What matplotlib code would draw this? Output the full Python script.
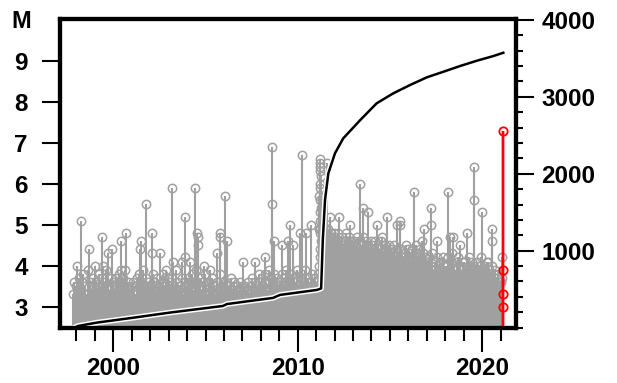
import matplotlib.pyplot as plt
import matplotlib.patheffects as pe
from matplotlib.ticker import MultipleLocator
import numpy as np

# Largest magnitude per month, Oct 1997 .. Jan 2021
first_month = 1997 + 9 / 12
monthly_max = [
    3.3, 3.6, 3.5,                                                  # 1997
    3.5, 3.7, 3.4, 3.6, 3.8, 3.5, 3.3, 3.9, 3.6, 3.4, 3.7, 3.5,     # 1998
    3.6, 3.4, 3.8, 3.5, 3.7, 3.3, 3.6, 3.9, 3.5, 3.4, 3.7, 3.6,     # 1999
    3.4, 3.7, 3.5, 3.8, 3.6, 3.3, 3.7, 3.9, 3.5, 3.6, 3.4, 3.5,     # 2000
    3.6, 3.5, 3.3, 3.7, 3.8, 3.4, 3.6, 3.9, 3.5, 3.7, 3.6, 3.4,     # 2001
    3.5, 3.8, 3.6, 3.4, 3.7, 3.5, 3.3, 3.6, 3.8, 3.5, 3.4, 3.7,     # 2002
    3.6, 3.4, 3.7, 3.5, 3.9, 3.6, 3.4, 3.5, 3.7, 3.3, 3.6, 3.5,     # 2003
    3.7, 3.5, 3.6, 3.8, 3.4, 3.9, 3.6, 3.5, 3.7, 3.4, 3.6, 3.8,     # 2004
    3.5, 3.3, 3.6, 3.4, 3.7, 3.5, 3.3, 3.6, 3.4, 3.8, 3.5, 3.6,     # 2005
    3.4, 3.6, 3.3, 3.5, 3.7, 3.4, 3.6, 3.3, 3.5, 3.4, 3.6, 3.5,     # 2006
    3.3, 3.5, 3.4, 3.6, 3.3, 3.5, 3.7, 3.4, 3.6, 3.5, 3.8, 3.6,     # 2007
    3.7, 3.5, 3.8, 3.6, 3.4, 3.9, 3.7, 3.5, 3.8, 3.6, 3.7, 3.5,     # 2008
    3.6, 3.8, 3.5, 3.7, 3.9, 3.6, 3.4, 3.8, 3.5, 3.7, 3.6, 3.9,     # 2009
    3.5, 3.7, 3.8, 3.6, 3.9, 3.5, 3.7, 3.4, 3.6, 3.8, 3.5, 3.7,     # 2010
    3.6, 3.8, 4.9, 5.1, 5.0, 4.9, 4.8, 4.9, 4.7, 4.8, 4.7, 4.8,     # 2011
    4.7, 4.6, 4.8, 4.6, 4.7, 4.5, 4.6, 4.8, 4.5, 4.7, 4.6, 4.5,     # 2012
    4.6, 4.5, 4.7, 4.4, 4.6, 4.5, 4.7, 4.4, 4.6, 4.5, 4.4, 4.6,     # 2013
    4.5, 4.4, 4.6, 4.3, 4.5, 4.4, 4.6, 4.3, 4.5, 4.4, 4.3, 4.5,     # 2014
    4.4, 4.3, 4.5, 4.2, 4.4, 4.3, 4.1, 4.4, 4.2, 4.3, 4.5, 4.2,     # 2015
    4.3, 4.1, 4.4, 4.2, 4.3, 4.0, 4.2, 4.4, 4.1, 4.3, 4.2, 4.1,     # 2016
    4.1, 4.2, 4.0, 4.3, 3.9, 4.1, 4.2, 4.0, 4.1, 3.9, 4.2, 4.0,     # 2017
    4.0, 4.2, 3.9, 4.1, 4.3, 4.0, 3.9, 4.1, 4.2, 4.0, 3.9, 4.1,     # 2018
    4.1, 3.9, 4.0, 4.2, 3.9, 4.1, 4.0, 3.8, 4.1, 3.9, 4.0, 4.2,     # 2019
    3.9, 4.0, 3.8, 4.1, 3.9, 3.7, 4.0, 3.8, 3.9, 3.7, 3.8, 3.6,     # 2020
    3.6,                                                            # 2021
]

# Individual larger events (decimal year, magnitude)
big_time = [
    1998.03, 1998.25, 1998.68, 1999.01, 1999.39, 1999.44, 1999.71, 1999.93,
    2000.42, 2000.42, 2000.69, 2001.45, 2001.51, 2001.78, 2002.10, 2002.10,
    2002.53, 2002.86, 2003.18, 2003.24, 2003.73, 2003.89, 2003.89, 2004.16,
    2004.43, 2004.54, 2004.59, 2004.59, 2004.92, 2005.24, 2005.62, 2005.79,
    2005.79, 2006.06, 2006.17, 2007.04, 2007.68, 2008.23, 2008.61, 2008.61,
    2008.72, 2009.15, 2009.47, 2009.58, 2009.74, 2010.12, 2010.23, 2010.45,
    2010.72,
    2011.21, 2011.23, 2011.19, 2011.21, 2011.24, 2011.19, 2011.22, 2011.18,
    2011.21, 2011.24, 2011.19, 2011.22, 2011.18, 2011.21, 2011.25, 2011.19,
    2011.22, 2011.18,
    2011.57, 2011.75, 2012.26, 2012.84, 2013.38, 2013.56, 2013.83, 2014.30,
    2014.57, 2014.86, 2015.39, 2015.55, 2015.55, 2015.97, 2016.31, 2016.40,
    2016.76, 2016.85, 2017.23, 2017.23, 2017.55, 2018.17, 2018.26, 2018.42,
    2018.80, 2019.18, 2019.58, 2019.58, 2019.98, 2020.26, 2020.52, 2020.52,
    2021.08, 2021.08,
]
big_mag = [
    4.0, 5.1, 4.4, 4.0, 4.7, 4.0, 4.3, 4.4,
    4.6, 3.9, 4.8, 4.4, 4.6, 5.5, 4.8, 4.3,
    4.3, 3.9, 5.9, 4.1, 4.1, 5.2, 4.2, 4.1,
    5.9, 4.8, 4.7, 4.5, 4.0, 3.9, 4.3, 4.8,
    4.7, 5.7, 4.6, 4.1, 4.1, 4.2, 6.9, 5.5,
    4.6, 4.5, 4.6, 5.0, 4.5, 4.8, 6.7, 4.8,
    5.0,
    6.6, 6.5, 6.4, 6.3, 6.2, 6.0, 5.9, 5.7,
    5.6, 5.4, 5.3, 5.1, 4.9, 4.8, 4.6, 4.4,
    4.2, 4.0,
    6.5, 5.2, 5.2, 5.0, 6.0, 5.4, 5.3, 5.0,
    4.7, 5.2, 5.0, 5.1, 5.0, 4.4, 5.8, 4.5,
    4.6, 4.9, 5.4, 5.0, 4.6, 5.8, 4.7, 4.7,
    4.5, 4.8, 6.4, 5.6, 5.3, 4.1, 4.9, 4.6,
    4.2, 3.7,
]

# February 2021 sequence
recent_time = [2021.15, 2021.15, 2021.15, 2021.15]
recent_mag = [7.3, 3.9, 3.3, 3.0]

# Cumulative number of events
cum_time = [1997.90, 1998.09, 1999.12, 2001.01, 2003.07, 2005.94, 2006.16,
            2008.66, 2009.04, 2011.05, 2011.27, 2011.36, 2011.48, 2011.66,
            2012.02, 2012.47, 2013.38, 2014.28, 2015.18, 2016.09, 2017.00,
            2017.90, 2018.80, 2019.71, 2020.61, 2021.15]
cum_count = [0, 20, 64, 125, 194, 280, 305,
             385, 424, 489, 508, 1139, 1659, 2006,
             2266, 2461, 2696, 2916, 3046, 3154, 3254,
             3327, 3401, 3470, 3531, 3574]

plt.rcParams["font.family"] = ["Liberation Sans", "DejaVu Sans"]
plt.rcParams["font.weight"] = "bold"
plt.rcParams["font.size"] = 17.5

fig = plt.figure(figsize=(6.17, 3.83), dpi=100)
ax = fig.add_axes([0.0976, 0.1449, 0.7379, 0.8063])

gray = "#a0a0a0"
month_time = first_month + (np.arange(len(monthly_max)) + 0.5) / 12
ax.vlines(month_time, 0, monthly_max, color=gray, lw=1.5)
ax.plot(month_time, monthly_max, "o", ms=6, mfc="none", mec=gray, mew=1.1)
ax.vlines(big_time, 0, big_mag, color=gray, lw=1.5)
ax.plot(big_time, big_mag, "o", ms=6, mfc="none", mec=gray, mew=1.1)

ax.vlines(recent_time, 0, max(recent_mag), color="red", lw=1.6, zorder=4)
ax.plot(recent_time, recent_mag, "o", ms=6, mfc="none", mec="red", mew=1.3, zorder=4)

ax.set_xlim(1997.12, 2021.81)
ax.set_ylim(2.49, 10.03)
ax.set_xticks([2000, 2010, 2020])
ax.xaxis.set_minor_locator(MultipleLocator(1))
ax.set_yticks(range(3, 10))
ax.tick_params(axis="x", which="major", length=17.5, width=1.5, pad=4)
ax.tick_params(axis="x", which="minor", length=9.5, width=1.5)
ax.tick_params(axis="y", which="major", length=13.3, width=1.5, pad=10)

ax2 = ax.twinx()
ax2.plot(cum_time, cum_count, color="black", lw=1.8,
         path_effects=[pe.Stroke(linewidth=4, foreground="white"), pe.Normal()])
ax2.set_ylim(0, 4017)
ax2.set_yticks([1000, 2000, 3000, 4000])
ax2.yaxis.set_minor_locator(MultipleLocator(200))
ax2.tick_params(axis="y", which="major", length=12.6, width=1.5, pad=6)
ax2.tick_params(axis="y", which="minor", length=4.7, width=1.5)

for a in (ax, ax2):
    for s in a.spines.values():
        s.set_linewidth(3)

fig.text(21 / 617, 1 - 21 / 383, "M", ha="center", va="center", fontsize=17, fontweight="bold")

fig.savefig("out.png", dpi=100)
